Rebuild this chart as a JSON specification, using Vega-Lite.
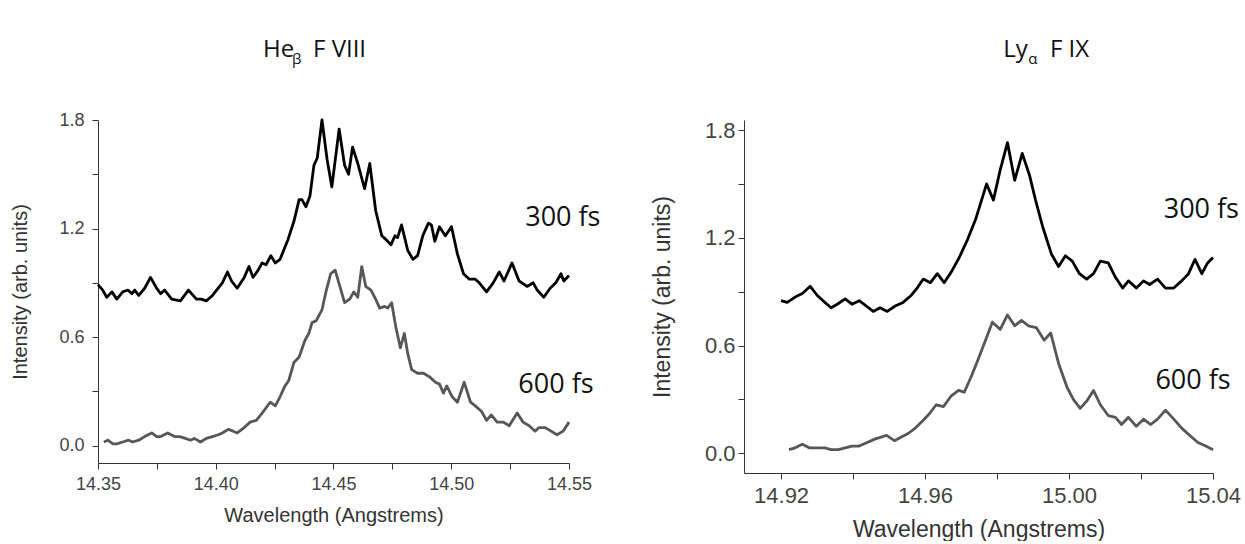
{
  "$schema": "https://vega.github.io/schema/vega-lite/v6.json",
  "background": "white",
  "padding": {"left": 10, "top": 38, "right": 0, "bottom": 0},
  "spacing": 50,
  "config": {"view": {"stroke": null}},
  "datasets": {
    "heb": [
      {"delay":"300 fs","wl":14.3500,"val":0.89},{"delay":"300 fs","wl":14.3520,"val":0.86},{"delay":"300 fs","wl":14.3537,"val":0.82},{"delay":"300 fs","wl":14.3559,"val":0.85},{"delay":"300 fs","wl":14.3580,"val":0.81},{"delay":"300 fs","wl":14.3605,"val":0.85},{"delay":"300 fs","wl":14.3627,"val":0.86},{"delay":"300 fs","wl":14.3644,"val":0.84},{"delay":"300 fs","wl":14.3656,"val":0.86},{"delay":"300 fs","wl":14.3673,"val":0.83},{"delay":"300 fs","wl":14.3698,"val":0.87},{"delay":"300 fs","wl":14.3723,"val":0.93},{"delay":"300 fs","wl":14.3749,"val":0.87},{"delay":"300 fs","wl":14.3766,"val":0.84},{"delay":"300 fs","wl":14.3783,"val":0.86},{"delay":"300 fs","wl":14.3813,"val":0.81},{"delay":"300 fs","wl":14.3850,"val":0.80},{"delay":"300 fs","wl":14.3884,"val":0.86},{"delay":"300 fs","wl":14.3918,"val":0.81},{"delay":"300 fs","wl":14.3938,"val":0.81},{"delay":"300 fs","wl":14.3960,"val":0.80},{"delay":"300 fs","wl":14.3986,"val":0.83},{"delay":"300 fs","wl":14.4028,"val":0.90},{"delay":"300 fs","wl":14.4050,"val":0.96},{"delay":"300 fs","wl":14.4067,"val":0.91},{"delay":"300 fs","wl":14.4091,"val":0.87},{"delay":"300 fs","wl":14.4121,"val":0.93},{"delay":"300 fs","wl":14.4141,"val":0.99},{"delay":"300 fs","wl":14.4158,"val":0.93},{"delay":"300 fs","wl":14.4180,"val":0.97},{"delay":"300 fs","wl":14.4197,"val":1.01},{"delay":"300 fs","wl":14.4214,"val":1.00},{"delay":"300 fs","wl":14.4234,"val":1.05},{"delay":"300 fs","wl":14.4253,"val":1.01},{"delay":"300 fs","wl":14.4273,"val":1.03},{"delay":"300 fs","wl":14.4307,"val":1.14},{"delay":"300 fs","wl":14.4332,"val":1.24},{"delay":"300 fs","wl":14.4354,"val":1.36},{"delay":"300 fs","wl":14.4366,"val":1.36},{"delay":"300 fs","wl":14.4383,"val":1.32},{"delay":"300 fs","wl":14.4400,"val":1.38},{"delay":"300 fs","wl":14.4417,"val":1.55},{"delay":"300 fs","wl":14.4431,"val":1.59},{"delay":"300 fs","wl":14.4451,"val":1.80},{"delay":"300 fs","wl":14.4473,"val":1.58},{"delay":"300 fs","wl":14.4493,"val":1.43},{"delay":"300 fs","wl":14.4524,"val":1.75},{"delay":"300 fs","wl":14.4547,"val":1.55},{"delay":"300 fs","wl":14.4564,"val":1.50},{"delay":"300 fs","wl":14.4581,"val":1.65},{"delay":"300 fs","wl":14.4603,"val":1.56},{"delay":"300 fs","wl":14.4632,"val":1.42},{"delay":"300 fs","wl":14.4654,"val":1.56},{"delay":"300 fs","wl":14.4679,"val":1.30},{"delay":"300 fs","wl":14.4705,"val":1.16},{"delay":"300 fs","wl":14.4722,"val":1.14},{"delay":"300 fs","wl":14.4744,"val":1.11},{"delay":"300 fs","wl":14.4761,"val":1.16},{"delay":"300 fs","wl":14.4772,"val":1.15},{"delay":"300 fs","wl":14.4789,"val":1.22},{"delay":"300 fs","wl":14.4815,"val":1.08},{"delay":"300 fs","wl":14.4837,"val":1.03},{"delay":"300 fs","wl":14.4857,"val":1.05},{"delay":"300 fs","wl":14.4879,"val":1.16},{"delay":"300 fs","wl":14.4903,"val":1.23},{"delay":"300 fs","wl":14.4916,"val":1.22},{"delay":"300 fs","wl":14.4930,"val":1.13},{"delay":"300 fs","wl":14.4950,"val":1.21},{"delay":"300 fs","wl":14.4975,"val":1.16},{"delay":"300 fs","wl":14.5001,"val":1.21},{"delay":"300 fs","wl":14.5026,"val":1.06},{"delay":"300 fs","wl":14.5052,"val":0.95},{"delay":"300 fs","wl":14.5077,"val":0.92},{"delay":"300 fs","wl":14.5102,"val":0.92},{"delay":"300 fs","wl":14.5119,"val":0.90},{"delay":"300 fs","wl":14.5150,"val":0.85},{"delay":"300 fs","wl":14.5178,"val":0.90},{"delay":"300 fs","wl":14.5204,"val":0.96},{"delay":"300 fs","wl":14.5224,"val":0.91},{"delay":"300 fs","wl":14.5258,"val":1.01},{"delay":"300 fs","wl":14.5288,"val":0.91},{"delay":"300 fs","wl":14.5322,"val":0.88},{"delay":"300 fs","wl":14.5348,"val":0.90},{"delay":"300 fs","wl":14.5365,"val":0.86},{"delay":"300 fs","wl":14.5393,"val":0.82},{"delay":"300 fs","wl":14.5420,"val":0.87},{"delay":"300 fs","wl":14.5444,"val":0.90},{"delay":"300 fs","wl":14.5466,"val":0.95},{"delay":"300 fs","wl":14.5478,"val":0.91},{"delay":"300 fs","wl":14.5500,"val":0.94},
      {"delay":"600 fs","wl":14.3525,"val":0.02},{"delay":"600 fs","wl":14.3542,"val":0.03},{"delay":"600 fs","wl":14.3563,"val":0.01},{"delay":"600 fs","wl":14.3580,"val":0.01},{"delay":"600 fs","wl":14.3605,"val":0.02},{"delay":"600 fs","wl":14.3630,"val":0.03},{"delay":"600 fs","wl":14.3647,"val":0.02},{"delay":"600 fs","wl":14.3673,"val":0.03},{"delay":"600 fs","wl":14.3698,"val":0.05},{"delay":"600 fs","wl":14.3728,"val":0.07},{"delay":"600 fs","wl":14.3749,"val":0.05},{"delay":"600 fs","wl":14.3766,"val":0.05},{"delay":"600 fs","wl":14.3796,"val":0.07},{"delay":"600 fs","wl":14.3825,"val":0.05},{"delay":"600 fs","wl":14.3847,"val":0.05},{"delay":"600 fs","wl":14.3871,"val":0.04},{"delay":"600 fs","wl":14.3893,"val":0.03},{"delay":"600 fs","wl":14.3909,"val":0.04},{"delay":"600 fs","wl":14.3935,"val":0.02},{"delay":"600 fs","wl":14.3960,"val":0.04},{"delay":"600 fs","wl":14.3986,"val":0.05},{"delay":"600 fs","wl":14.4011,"val":0.06},{"delay":"600 fs","wl":14.4028,"val":0.07},{"delay":"600 fs","wl":14.4053,"val":0.09},{"delay":"600 fs","wl":14.4074,"val":0.08},{"delay":"600 fs","wl":14.4091,"val":0.07},{"delay":"600 fs","wl":14.4121,"val":0.10},{"delay":"600 fs","wl":14.4146,"val":0.13},{"delay":"600 fs","wl":14.4172,"val":0.14},{"delay":"600 fs","wl":14.4197,"val":0.18},{"delay":"600 fs","wl":14.4231,"val":0.24},{"delay":"600 fs","wl":14.4253,"val":0.22},{"delay":"600 fs","wl":14.4273,"val":0.27},{"delay":"600 fs","wl":14.4294,"val":0.33},{"delay":"600 fs","wl":14.4310,"val":0.36},{"delay":"600 fs","wl":14.4332,"val":0.46},{"delay":"600 fs","wl":14.4354,"val":0.49},{"delay":"600 fs","wl":14.4378,"val":0.58},{"delay":"600 fs","wl":14.4395,"val":0.62},{"delay":"600 fs","wl":14.4409,"val":0.68},{"delay":"600 fs","wl":14.4426,"val":0.69},{"delay":"600 fs","wl":14.4451,"val":0.75},{"delay":"600 fs","wl":14.4468,"val":0.85},{"delay":"600 fs","wl":14.4488,"val":0.95},{"delay":"600 fs","wl":14.4507,"val":0.97},{"delay":"600 fs","wl":14.4527,"val":0.88},{"delay":"600 fs","wl":14.4547,"val":0.79},{"delay":"600 fs","wl":14.4569,"val":0.81},{"delay":"600 fs","wl":14.4586,"val":0.85},{"delay":"600 fs","wl":14.4603,"val":0.82},{"delay":"600 fs","wl":14.4620,"val":0.99},{"delay":"600 fs","wl":14.4637,"val":0.88},{"delay":"600 fs","wl":14.4659,"val":0.86},{"delay":"600 fs","wl":14.4679,"val":0.81},{"delay":"600 fs","wl":14.4696,"val":0.76},{"delay":"600 fs","wl":14.4717,"val":0.77},{"delay":"600 fs","wl":14.4730,"val":0.76},{"delay":"600 fs","wl":14.4747,"val":0.79},{"delay":"600 fs","wl":14.4764,"val":0.66},{"delay":"600 fs","wl":14.4784,"val":0.54},{"delay":"600 fs","wl":14.4801,"val":0.62},{"delay":"600 fs","wl":14.4815,"val":0.51},{"delay":"600 fs","wl":14.4832,"val":0.42},{"delay":"600 fs","wl":14.4857,"val":0.40},{"delay":"600 fs","wl":14.4882,"val":0.40},{"delay":"600 fs","wl":14.4908,"val":0.38},{"delay":"600 fs","wl":14.4933,"val":0.35},{"delay":"600 fs","wl":14.4950,"val":0.34},{"delay":"600 fs","wl":14.4967,"val":0.29},{"delay":"600 fs","wl":14.4981,"val":0.33},{"delay":"600 fs","wl":14.5004,"val":0.27},{"delay":"600 fs","wl":14.5026,"val":0.24},{"delay":"600 fs","wl":14.5055,"val":0.35},{"delay":"600 fs","wl":14.5082,"val":0.24},{"delay":"600 fs","wl":14.5102,"val":0.22},{"delay":"600 fs","wl":14.5128,"val":0.19},{"delay":"600 fs","wl":14.5150,"val":0.14},{"delay":"600 fs","wl":14.5170,"val":0.17},{"delay":"600 fs","wl":14.5195,"val":0.13},{"delay":"600 fs","wl":14.5221,"val":0.13},{"delay":"600 fs","wl":14.5246,"val":0.11},{"delay":"600 fs","wl":14.5280,"val":0.18},{"delay":"600 fs","wl":14.5305,"val":0.13},{"delay":"600 fs","wl":14.5331,"val":0.11},{"delay":"600 fs","wl":14.5356,"val":0.08},{"delay":"600 fs","wl":14.5373,"val":0.10},{"delay":"600 fs","wl":14.5398,"val":0.10},{"delay":"600 fs","wl":14.5424,"val":0.08},{"delay":"600 fs","wl":14.5449,"val":0.06},{"delay":"600 fs","wl":14.5475,"val":0.08},{"delay":"600 fs","wl":14.5500,"val":0.13}
    ],
    "lya": [
      {"delay":"300 fs","wl":14.9200,"val":0.85},{"delay":"300 fs","wl":14.9217,"val":0.84},{"delay":"300 fs","wl":14.9239,"val":0.87},{"delay":"300 fs","wl":14.9259,"val":0.89},{"delay":"300 fs","wl":14.9281,"val":0.93},{"delay":"300 fs","wl":14.9300,"val":0.88},{"delay":"300 fs","wl":14.9322,"val":0.84},{"delay":"300 fs","wl":14.9339,"val":0.81},{"delay":"300 fs","wl":14.9356,"val":0.83},{"delay":"300 fs","wl":14.9378,"val":0.86},{"delay":"300 fs","wl":14.9397,"val":0.83},{"delay":"300 fs","wl":14.9417,"val":0.85},{"delay":"300 fs","wl":14.9437,"val":0.82},{"delay":"300 fs","wl":14.9456,"val":0.79},{"delay":"300 fs","wl":14.9475,"val":0.81},{"delay":"300 fs","wl":14.9495,"val":0.79},{"delay":"300 fs","wl":14.9517,"val":0.82},{"delay":"300 fs","wl":14.9539,"val":0.84},{"delay":"300 fs","wl":14.9562,"val":0.88},{"delay":"300 fs","wl":14.9578,"val":0.92},{"delay":"300 fs","wl":14.9595,"val":0.97},{"delay":"300 fs","wl":14.9615,"val":0.95},{"delay":"300 fs","wl":14.9634,"val":1.00},{"delay":"300 fs","wl":14.9653,"val":0.95},{"delay":"300 fs","wl":14.9673,"val":1.01},{"delay":"300 fs","wl":14.9695,"val":1.09},{"delay":"300 fs","wl":14.9718,"val":1.19},{"delay":"300 fs","wl":14.9740,"val":1.30},{"delay":"300 fs","wl":14.9757,"val":1.41},{"delay":"300 fs","wl":14.9771,"val":1.50},{"delay":"300 fs","wl":14.9790,"val":1.41},{"delay":"300 fs","wl":14.9809,"val":1.58},{"delay":"300 fs","wl":14.9829,"val":1.73},{"delay":"300 fs","wl":14.9849,"val":1.52},{"delay":"300 fs","wl":14.9870,"val":1.67},{"delay":"300 fs","wl":14.9890,"val":1.55},{"delay":"300 fs","wl":14.9907,"val":1.41},{"delay":"300 fs","wl":14.9927,"val":1.26},{"delay":"300 fs","wl":14.9951,"val":1.11},{"delay":"300 fs","wl":14.9971,"val":1.04},{"delay":"300 fs","wl":14.9990,"val":1.10},{"delay":"300 fs","wl":15.0009,"val":1.07},{"delay":"300 fs","wl":15.0029,"val":1.00},{"delay":"300 fs","wl":15.0049,"val":0.97},{"delay":"300 fs","wl":15.0068,"val":1.00},{"delay":"300 fs","wl":15.0087,"val":1.07},{"delay":"300 fs","wl":15.0109,"val":1.06},{"delay":"300 fs","wl":15.0129,"val":0.98},{"delay":"300 fs","wl":15.0149,"val":0.92},{"delay":"300 fs","wl":15.0165,"val":0.96},{"delay":"300 fs","wl":15.0187,"val":0.92},{"delay":"300 fs","wl":15.0207,"val":0.96},{"delay":"300 fs","wl":15.0224,"val":0.94},{"delay":"300 fs","wl":15.0246,"val":0.97},{"delay":"300 fs","wl":15.0268,"val":0.92},{"delay":"300 fs","wl":15.0291,"val":0.92},{"delay":"300 fs","wl":15.0313,"val":0.96},{"delay":"300 fs","wl":15.0332,"val":1.00},{"delay":"300 fs","wl":15.0350,"val":1.08},{"delay":"300 fs","wl":15.0369,"val":1.00},{"delay":"300 fs","wl":15.0385,"val":1.06},{"delay":"300 fs","wl":15.0400,"val":1.09},
      {"delay":"600 fs","wl":14.9222,"val":0.02},{"delay":"600 fs","wl":14.9239,"val":0.03},{"delay":"600 fs","wl":14.9259,"val":0.05},{"delay":"600 fs","wl":14.9278,"val":0.03},{"delay":"600 fs","wl":14.9300,"val":0.03},{"delay":"600 fs","wl":14.9322,"val":0.03},{"delay":"600 fs","wl":14.9339,"val":0.02},{"delay":"600 fs","wl":14.9359,"val":0.02},{"delay":"600 fs","wl":14.9378,"val":0.03},{"delay":"600 fs","wl":14.9397,"val":0.04},{"delay":"600 fs","wl":14.9417,"val":0.04},{"delay":"600 fs","wl":14.9439,"val":0.06},{"delay":"600 fs","wl":14.9462,"val":0.08},{"delay":"600 fs","wl":14.9478,"val":0.09},{"delay":"600 fs","wl":14.9493,"val":0.10},{"delay":"600 fs","wl":14.9515,"val":0.07},{"delay":"600 fs","wl":14.9534,"val":0.09},{"delay":"600 fs","wl":14.9553,"val":0.11},{"delay":"600 fs","wl":14.9573,"val":0.14},{"delay":"600 fs","wl":14.9593,"val":0.18},{"delay":"600 fs","wl":14.9612,"val":0.22},{"delay":"600 fs","wl":14.9631,"val":0.27},{"delay":"600 fs","wl":14.9651,"val":0.26},{"delay":"600 fs","wl":14.9673,"val":0.32},{"delay":"600 fs","wl":14.9693,"val":0.35},{"delay":"600 fs","wl":14.9709,"val":0.34},{"delay":"600 fs","wl":14.9729,"val":0.43},{"delay":"600 fs","wl":14.9749,"val":0.53},{"delay":"600 fs","wl":14.9768,"val":0.63},{"delay":"600 fs","wl":14.9787,"val":0.73},{"delay":"600 fs","wl":14.9809,"val":0.69},{"delay":"600 fs","wl":14.9829,"val":0.77},{"delay":"600 fs","wl":14.9849,"val":0.71},{"delay":"600 fs","wl":14.9868,"val":0.74},{"delay":"600 fs","wl":14.9887,"val":0.71},{"delay":"600 fs","wl":14.9909,"val":0.70},{"delay":"600 fs","wl":14.9931,"val":0.63},{"delay":"600 fs","wl":14.9949,"val":0.67},{"delay":"600 fs","wl":14.9971,"val":0.50},{"delay":"600 fs","wl":14.9994,"val":0.37},{"delay":"600 fs","wl":15.0012,"val":0.30},{"delay":"600 fs","wl":15.0031,"val":0.25},{"delay":"600 fs","wl":15.0049,"val":0.29},{"delay":"600 fs","wl":15.0068,"val":0.35},{"delay":"600 fs","wl":15.0087,"val":0.27},{"delay":"600 fs","wl":15.0109,"val":0.21},{"delay":"600 fs","wl":15.0129,"val":0.20},{"delay":"600 fs","wl":15.0146,"val":0.16},{"delay":"600 fs","wl":15.0165,"val":0.20},{"delay":"600 fs","wl":15.0187,"val":0.15},{"delay":"600 fs","wl":15.0207,"val":0.19},{"delay":"600 fs","wl":15.0227,"val":0.16},{"delay":"600 fs","wl":15.0246,"val":0.19},{"delay":"600 fs","wl":15.0268,"val":0.24},{"delay":"600 fs","wl":15.0291,"val":0.19},{"delay":"600 fs","wl":15.0313,"val":0.14},{"delay":"600 fs","wl":15.0335,"val":0.10},{"delay":"600 fs","wl":15.0358,"val":0.06},{"delay":"600 fs","wl":15.0380,"val":0.04},{"delay":"600 fs","wl":15.0400,"val":0.02}
    ],
    "notesL": [
      {"role":"title","label":"He","wl":14.4201,"val":2.148},
      {"role":"sub","label":"β","wl":14.4324,"val":2.148},
      {"role":"title","label":"F VIII","wl":14.4413,"val":2.148},
      {"role":"delay","label":"300 fs","wl":14.5314,"val":1.256},
      {"role":"delay","label":"600 fs","wl":14.5285,"val":0.335}
    ],
    "notesR": [
      {"role":"title","label":"Ly","wl":14.9817,"val":2.2066},
      {"role":"sub","label":"α","wl":14.9887,"val":2.2066},
      {"role":"title","label":"F IX","wl":14.9947,"val":2.2066},
      {"role":"delay","label":"300 fs","wl":15.0263,"val":1.355},
      {"role":"delay","label":"600 fs","wl":15.024,"val":0.40}
    ]
  },
  "hconcat": [
    {
      "width": 471,
      "height": 343,
      "layer": [
        {
          "data": {"name": "heb"},
          "mark": {"type": "line", "strokeWidth": 2.8, "strokeJoin": "round"},
          "encoding": {
            "x": {"field": "wl", "type": "quantitative",
              "scale": {"domain": [14.35, 14.55], "nice": false, "zero": false},
              "axis": {"title": "Wavelength (Angstrems)", "values": [14.35, 14.375, 14.4, 14.425, 14.45, 14.475, 14.5, 14.525, 14.55],
                "labelExpr": "round(datum.value*1000)%50==0 ? format(datum.value,'.2f') : ''",
                "grid": false, "tickSize": 6, "labelPadding": 6, "labelFlush": false, "labelOverlap": false, "labelBound": false,
                "labelFont": "Liberation Sans", "labelFontSize": 18, "labelColor": "#444",
                "titleFont": "Liberation Sans", "titleFontSize": 20, "titleFontWeight": "normal", "titleColor": "#333", "titlePadding": 12,
                "domainColor": "#333", "tickColor": "#333"}},
            "y": {"field": "val", "type": "quantitative",
              "scale": {"domain": [-0.096, 1.8], "nice": false, "zero": false},
              "axis": {"title": "Intensity (arb. units)", "values": [0, 0.3, 0.6, 0.9, 1.2, 1.5, 1.8],
                "labelExpr": "round(datum.value*10)%6==0 ? format(datum.value,'.1f') : ''",
                "grid": false, "tickSize": 6, "labelPadding": 8, "labelOverlap": false, "labelBound": false, "labelFlush": false,
                "labelFont": "Liberation Sans", "labelFontSize": 18, "labelColor": "#444",
                "titleFont": "Liberation Sans", "titleFontSize": 20, "titleFontWeight": "normal", "titleColor": "#333", "titlePadding": 28,
                "domainColor": "#333", "tickColor": "#333"}},
            "color": {"field": "delay", "type": "nominal", "scale": {"domain": ["300 fs", "600 fs"], "range": ["#000000", "#575757"]}, "legend": null}
          }
        },
        {
          "data": {"name": "notesL"},
          "transform": [{"filter": "datum.role == 'title'"}],
          "mark": {"type": "text", "align": "left", "baseline": "alphabetic", "font": "Open Sans", "fontSize": 24, "color": "#111"},
          "encoding": {
            "x": {"field": "wl", "type": "quantitative", "scale": {"domain": [14.35, 14.55], "nice": false, "zero": false}},
            "y": {"field": "val", "type": "quantitative", "scale": {"domain": [-0.096, 1.8], "nice": false, "zero": false}},
            "text": {"field": "label"}
          }
        },
        {
          "data": {"name": "notesL"},
          "transform": [{"filter": "datum.role == 'sub'"}],
          "mark": {"type": "text", "align": "left", "baseline": "alphabetic", "font": "Open Sans", "fontSize": 15, "dy": 7, "color": "#111"},
          "encoding": {
            "x": {"field": "wl", "type": "quantitative", "scale": {"domain": [14.35, 14.55], "nice": false, "zero": false}},
            "y": {"field": "val", "type": "quantitative", "scale": {"domain": [-0.096, 1.8], "nice": false, "zero": false}},
            "text": {"field": "label"}
          }
        },
        {
          "data": {"name": "notesL"},
          "transform": [{"filter": "datum.role == 'delay'"}],
          "mark": {"type": "text", "align": "left", "baseline": "middle", "font": "Open Sans", "fontSize": 27, "color": "#111"},
          "encoding": {
            "x": {"field": "wl", "type": "quantitative", "scale": {"domain": [14.35, 14.55], "nice": false, "zero": false}},
            "y": {"field": "val", "type": "quantitative", "scale": {"domain": [-0.096, 1.8], "nice": false, "zero": false}},
            "text": {"field": "label"}
          }
        }
      ]
    },
    {
      "width": 469,
      "height": 353,
      "layer": [
        {
          "data": {"name": "lya"},
          "mark": {"type": "line", "strokeWidth": 2.8, "strokeJoin": "round"},
          "encoding": {
            "x": {"field": "wl", "type": "quantitative",
              "scale": {"domain": [14.9097, 15.04], "nice": false, "zero": false},
              "axis": {"title": "Wavelength (Angstrems)", "values": [14.92, 14.94, 14.96, 14.98, 15.0, 15.02, 15.04],
                "labelExpr": "round(datum.value*100)%4==0 ? format(datum.value,'.2f') : ''",
                "grid": false, "tickSize": 6, "labelPadding": 6, "labelFlush": false, "labelOverlap": false, "labelBound": false,
                "labelFont": "Liberation Sans", "labelFontSize": 22, "labelColor": "#444",
                "titleFont": "Liberation Sans", "titleFontSize": 23, "titleFontWeight": "normal", "titleColor": "#333", "titlePadding": 12,
                "domainColor": "#333", "tickColor": "#333"}},
            "y": {"field": "val", "type": "quantitative",
              "scale": {"domain": [-0.11, 1.856], "nice": false, "zero": false},
              "axis": {"title": "Intensity (arb. units)", "values": [0, 0.3, 0.6, 0.9, 1.2, 1.5, 1.8],
                "labelExpr": "round(datum.value*10)%6==0 ? format(datum.value,'.1f') : ''",
                "grid": false, "tickSize": 6, "labelPadding": 3, "labelOverlap": false, "labelBound": false, "labelFlush": false,
                "labelFont": "Liberation Sans", "labelFontSize": 22, "labelColor": "#444",
                "titleFont": "Liberation Sans", "titleFontSize": 23, "titleFontWeight": "normal", "titleColor": "#333", "titlePadding": 30,
                "domainColor": "#333", "tickColor": "#333"}},
            "color": {"field": "delay", "type": "nominal", "scale": {"domain": ["300 fs", "600 fs"], "range": ["#000000", "#575757"]}, "legend": null}
          }
        },
        {
          "data": {"name": "notesR"},
          "transform": [{"filter": "datum.role == 'title'"}],
          "mark": {"type": "text", "align": "left", "baseline": "alphabetic", "font": "Open Sans", "fontSize": 24, "color": "#111"},
          "encoding": {
            "x": {"field": "wl", "type": "quantitative", "scale": {"domain": [14.9097, 15.04], "nice": false, "zero": false}},
            "y": {"field": "val", "type": "quantitative", "scale": {"domain": [-0.11, 1.856], "nice": false, "zero": false}},
            "text": {"field": "label"}
          }
        },
        {
          "data": {"name": "notesR"},
          "transform": [{"filter": "datum.role == 'sub'"}],
          "mark": {"type": "text", "align": "left", "baseline": "alphabetic", "font": "Open Sans", "fontSize": 15, "dy": 7, "color": "#111"},
          "encoding": {
            "x": {"field": "wl", "type": "quantitative", "scale": {"domain": [14.9097, 15.04], "nice": false, "zero": false}},
            "y": {"field": "val", "type": "quantitative", "scale": {"domain": [-0.11, 1.856], "nice": false, "zero": false}},
            "text": {"field": "label"}
          }
        },
        {
          "data": {"name": "notesR"},
          "transform": [{"filter": "datum.role == 'delay'"}],
          "mark": {"type": "text", "align": "left", "baseline": "middle", "font": "Open Sans", "fontSize": 27, "color": "#111"},
          "encoding": {
            "x": {"field": "wl", "type": "quantitative", "scale": {"domain": [14.9097, 15.04], "nice": false, "zero": false}},
            "y": {"field": "val", "type": "quantitative", "scale": {"domain": [-0.11, 1.856], "nice": false, "zero": false}},
            "text": {"field": "label"}
          }
        }
      ]
    }
  ]
}
